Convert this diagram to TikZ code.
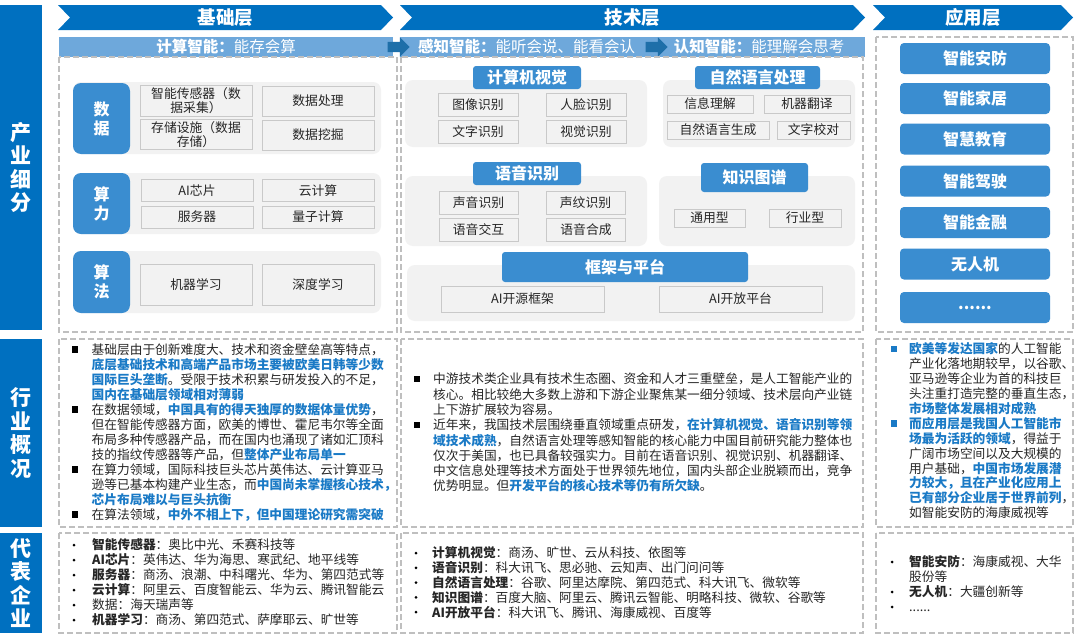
\documentclass[tikz,border=0pt]{standalone}
\usepackage{fontspec}
\setmainfont{Noto Sans CJK SC}
\usetikzlibrary{positioning,shapes.arrows}

\definecolor{darkblue}{HTML}{0070C0}
\definecolor{tabblue}{HTML}{3A8DD0}
\definecolor{lightblue}{HTML}{6EA8DB}
\definecolor{arrowblue}{HTML}{1E6FA9}
\definecolor{boxgray}{HTML}{F2F2F2}
\definecolor{cellline}{HTML}{C9C9C9}
\definecolor{dashgray}{HTML}{BFBFBF}
\definecolor{hiblue}{HTML}{1A7AC6}
\definecolor{bodytext}{HTML}{262626}

\newcommand{\hib}[1]{\textcolor{hiblue}{\bfseries #1}}

\tikzset{
  sidelab/.style={fill=darkblue, text=white, minimum width=42, inner sep=0, align=center, font=\bfseries\fontsize{21}{23.5}\selectfont},
  layertext/.style={text=white, inner sep=0, font=\bfseries\fontsize{18.5}{20}\selectfont},
  subbar/.style={fill=lightblue, text=white, minimum height=20, inner sep=0, font=\fontsize{15.5}{17}\selectfont},
  flowarrow/.style={single arrow, fill=arrowblue, minimum height=22, inner sep=5, single arrow head extend=4.5},
  dashbox/.style={draw=dashgray, line width=1.1, dash pattern=on 6 off 3},
  grpbg/.style={fill=boxgray, rounded corners=8},
  grptab/.style={fill=tabblue, text=white, rounded corners=8, minimum width=57, inner sep=0, align=center, font=\bfseries\fontsize{16}{19}\selectfont},
  cell/.style={draw=cellline, fill=boxgray, line width=1, inner sep=0, align=center, text=bodytext, font=\fontsize{12.8}{14}\selectfont},
  techhead/.style={fill=tabblue, text=white, rounded corners=3, inner sep=0, font=\bfseries\fontsize{16}{18}\selectfont},
  appbox/.style={fill=tabblue, text=white, rounded corners=4, minimum width=150, minimum height=31, inner sep=0, font=\bfseries\fontsize{16}{18}\selectfont},
  para/.style={anchor=base west, inner sep=0, align=left, text=bodytext, font=\fontsize{12.7}{15}\selectfont},
  sqbullet/.style={fill=black, minimum size=6.5, inner sep=0},
  dotbullet/.style={circle, fill=black, minimum size=3, inner sep=0},
}

\begin{document}
\begin{tikzpicture}[x=1pt, y=-1pt]
        \useasboundingbox (0,0) rectangle (1080,640);
        \fill[white] (0,0) rectangle (1080,640);

        %side labels
        \node[sidelab, minimum height=325] (cyxf) at (21,167.5) {产\\业\\细\\分};
        \node[sidelab, minimum height=188] (hygk) at (21,433) {行\\业\\概\\况};
        \node[sidelab, minimum height=100] (dbqy) at (21,583) {代\\表\\企\\业};

        %layer headers
        \foreach \xa/\xb/\lname/\ltext in {58/393/jcc/基础层, 400/865/jsc/技术层, 873/1073/yyc/应用层}{
            \fill[darkblue] (\xa,5) -- ({\xb-12},5) -- (\xb,17.5) -- ({\xb-12},30) -- (\xa,30) -- ({\xa+12},17.5) -- cycle;
            \node[layertext] (\lname) at ({(\xa+\xb)/2},17.5) {\ltext};
        }

        %intelligence bars
        \node[subbar, minimum width=334] (jszn) at (226,47) {\textbf{计算智能：}能存会算};
        \node[subbar, minimum width=253] (gzzn) at (526.5,47) {\textbf{感知智能：}能听会说、能看会认};
        \node[subbar, minimum width=212] (rzzn) at (759,47) {\textbf{认知智能：}能理解会思考};
        \node[flowarrow] (ar1) at (396,47) {};
        \node[flowarrow] (ar2) at (654,47) {};

        %dashed frames
        \foreach \ya/\yb in {57/332, 339/527, 533/633}{
            \draw[dashbox] (59,\ya) rectangle (397,\yb);
            \draw[dashbox] (401,\ya) rectangle (863,\yb);
        }
        \draw[dashbox] (876,37) rectangle (1073,332);
        \draw[dashbox] (876,339) rectangle (1073,527);
        \draw[dashbox] (876,533) rectangle (1073,633);

        %basic layer
        \fill[grpbg] (73,82) rectangle (381,154);
        \fill[grpbg] (73,173) rectangle (381,234);
        \fill[grpbg] (73,251) rectangle (381,313);
        \node[grptab, minimum height=71] (sj) at (101.5,118.5) {数\\据};
        \node[grptab, minimum height=61] (sl) at (101.5,203.5) {算\\力};
        \node[grptab, minimum height=62] (sf) at (101.5,282) {算\\法};

        \node[cell, minimum width=112, minimum height=31] (cgq) at (196,100.5) {智能传感器（数\\据采集）};
        \node[cell, minimum width=112, minimum height=30] (sjcl) at (318,101) {数据处理};
        \node[cell, minimum width=112, minimum height=30] (ccss) at (196,134.5) {存储设施（数据\\存储）};
        \node[cell, minimum width=112, minimum height=30] (sjwj) at (318,135) {数据挖掘};
        \node[cell, minimum width=112, minimum height=22] (aixp) at (197,190.5) {AI芯片};
        \node[cell, minimum width=112, minimum height=22] (yjs) at (318,190.5) {云计算};
        \node[cell, minimum width=112, minimum height=22] (fwq) at (197,217) {服务器};
        \node[cell, minimum width=112, minimum height=22] (lzjs) at (318,217) {量子计算};
        \node[cell, minimum width=112, minimum height=41] (jqxx) at (196,284.5) {机器学习};
        \node[cell, minimum width=112, minimum height=41] (sdxx) at (318,284.5) {深度学习};

        %technology layer
        \fill[grpbg] (405,80) rectangle (647,147);
        \fill[grpbg] (663,80) rectangle (855,147);
        \fill[grpbg] (405,176) rectangle (647,246);
        \fill[grpbg] (659,176) rectangle (855,246);
        \fill[grpbg] (407,265) rectangle (855,321);
        \node[techhead, minimum width=108, minimum height=23] (jsjsj) at (527,77.5) {计算机视觉};
        \node[techhead, minimum width=125, minimum height=23] (zryy) at (757.5,77.5) {自然语言处理};
        \node[techhead, minimum width=108, minimum height=23] (yysb) at (527,173.5) {语音识别};
        \node[techhead, minimum width=107, minimum height=29] (zstp) at (754.5,177.5) {知识图谱};
        \node[techhead, minimum width=246, minimum height=30] (kjpt) at (625,267) {框架与平台};

        \node[cell, minimum width=80, minimum height=23] (txsb) at (478,105) {图像识别};
        \node[cell, minimum width=80, minimum height=23] (rlsb) at (586,105) {人脸识别};
        \node[cell, minimum width=80, minimum height=23] (wzsb) at (478,132) {文字识别};
        \node[cell, minimum width=80, minimum height=23] (sjsb) at (586,132) {视觉识别};
        \node[cell, minimum width=86, minimum height=18] (xxlj) at (710,104) {信息理解};
        \node[cell, minimum width=86, minimum height=18] (jqfy) at (807,104) {机器翻译};
        \node[cell, minimum width=102, minimum height=18] (zrsc) at (718,130) {自然语言生成};
        \node[cell, minimum width=73, minimum height=18] (wzjd) at (813.5,130) {文字校对};
        \node[cell, minimum width=79, minimum height=23] (sysb) at (478.5,202.5) {声音识别};
        \node[cell, minimum width=79, minimum height=23] (swsb) at (585.5,202.5) {声纹识别};
        \node[cell, minimum width=79, minimum height=23] (yyjh) at (478.5,230) {语音交互};
        \node[cell, minimum width=79, minimum height=23] (yyhc) at (586,230) {语音合成};
        \node[cell, minimum width=71, minimum height=18] (tyx) at (709.5,218) {通用型};
        \node[cell, minimum width=72, minimum height=18] (hyx) at (805,218) {行业型};
        \node[cell, minimum width=163, minimum height=26] (kykj) at (522.5,299) {AI开源框架};
        \node[cell, minimum width=163, minimum height=26] (kfpt) at (740.5,299) {AI开放平台};

        %application layer
        \foreach \yc/\aname/\atext in {58.5/aaf/智能安防, 98.5/ajj/智能家居, 139/ajy/智慧教育, 181/ajs/智能驾驶, 222.5/ajr/智能金融, 264/awrj/无人机}
            \node[appbox] (\aname) at (975,\yc) {\atext};
        \node[appbox] (agd) at (975,307.5) {......};

        %industry overview
        \node[para, text width=300] (gk1) at (91.5,354.3) {基础层由于创新难度大、技术和资金壁垒高等特点，\\
            \hib{底层基础技术和高端产品市场主要被欧美日韩等少数}\\
            \hib{国际巨头垄断}。受限于技术积累与研发投入的不足，\\
            \hib{国内在基础层领域相对薄弱}\\
            在数据领域，\hib{中国具有的得天独厚的数据体量优势}，\\
            但在智能传感器方面，欧美的博世、霍尼韦尔等全面\\
            布局多种传感器产品，而在国内也涌现了诸如汇顶科\\
            技的指纹传感器等产品，但\hib{整体产业布局单一}\\
            在算力领域，国际科技巨头芯片英伟达、云计算亚马\\
            逊等已基本构建产业生态，而\hib{中国尚未掌握核心技术，}\\
            \hib{芯片布局难以与巨头抗衡}\\
            在算法领域，\hib{中外不相上下，但中国理论研究需突破}};
        \foreach \yb [count=\i] in {349.5, 409.5, 469.5, 514.5}
            \node[sqbullet] (gkb\i) at (75,\yb) {};

        \node[para, text width=430, font=\fontsize{12.7}{15.3}\selectfont] (gk2) at (433,383.8) {中游技术类企业具有技术生态圈、资金和人才三重壁垒，是人工智能产业的\\
            核心。相比较绝大多数上游和下游企业聚焦某一细分领域、技术层向产业链\\
            上下游扩展较为容易。\\
            近年来，我国技术层围绕垂直领域重点研发，\hib{在计算机视觉、语音识别等领}\\
            \hib{域技术成熟}，自然语言处理等感知智能的核心能力中国目前研究能力整体也\\
            仅次于美国，也已具备较强实力。目前在语音识别、视觉识别、机器翻译、\\
            中文信息处理等技术方面处于世界领先地位，国内头部企业脱颖而出，竞争\\
            优势明显。但\hib{开发平台的核心技术等仍有所欠缺}。};
        \node[sqbullet] (jsb1) at (417,379) {};
        \node[sqbullet] (jsb2) at (417,424.9) {};

        \node[para, text width=170, font=\fontsize{12.7}{14.9}\selectfont] (gk3) at (909,353.8) {\hib{欧美等发达国家}的人工智能\\
            产业化落地期较早，以谷歌、\\
            亚马逊等企业为首的科技巨\\
            头注重打造完整的垂直生态，\\
            \hib{市场整体发展相对成熟}\\
            \hib{而应用层是我国人工智能市}\\
            \hib{场最为活跃的领域}，得益于\\
            广阔市场空间以及大规模的\\
            用户基础，\hib{中国市场发展潜}\\
            \hib{力较大，且在产业化应用上}\\
            \hib{已有部分企业居于世界前列}，\\
            如智能安防的海康威视等};
        \node[sqbullet, fill=hiblue] (yyb1) at (894,349) {};
        \node[sqbullet, fill=hiblue] (yyb2) at (894,423.5) {};

        %representative companies
        \node[para, text width=300] (qy1) at (92,549.8) {\textbf{智能传感器}：奥比中光、禾赛科技等\\
            \textbf{AI芯片}：英伟达、华为海思、寒武纪、地平线等\\
            \textbf{服务器}：商汤、浪潮、中科曙光、华为、第四范式等\\
            \textbf{云计算}：阿里云、百度智能云、华为云、腾讯智能云\\
            数据：海天瑞声等\\
            \textbf{机器学习}：商汤、第四范式、萨摩耶云、旷世等};
        \foreach \k in {0,...,5}
            \node[dotbullet] (qa\k) at (74,{545+15*\k}) {};

        \node[para, text width=430, font=\fontsize{12.7}{14.8}\selectfont] (qy2) at (432,557.8) {\textbf{计算机视觉}：商汤、旷世、云从科技、依图等\\
            \textbf{语音识别}：科大讯飞、思必驰、云知声、出门问问等\\
            \textbf{自然语言处理}：谷歌、阿里达摩院、第四范式、科大讯飞、微软等\\
            \textbf{知识图谱}：百度大脑、阿里云、腾讯云智能、明略科技、微软、谷歌等\\
            \textbf{AI开放平台}：科大讯飞、腾讯、海康威视、百度等};
        \foreach \k in {0,...,4}
            \node[dotbullet] (qb\k) at (416,{553+14.8*\k}) {};

        \node[para, text width=160] (qy3) at (909,566.8) {\textbf{智能安防}：海康威视、大华\\
            股份等\\
            \textbf{无人机}：大疆创新等\\
            ......};
        \foreach \yb [count=\i] in {562, 592, 607}
            \node[dotbullet] (qc\i) at (892,\yb) {};

\end{tikzpicture}
\end{document}
